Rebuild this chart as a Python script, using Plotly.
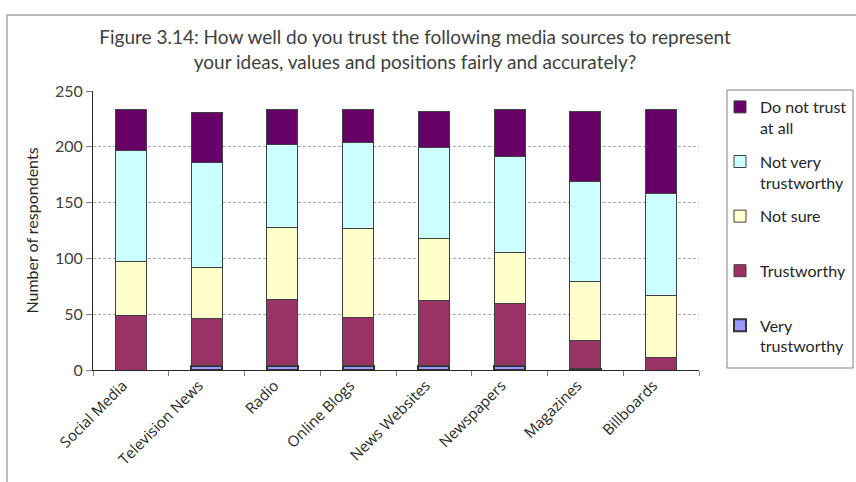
import plotly.graph_objects as go

# Survey responses per media source (number of respondents)
categories = ["Social Media", "Television News", "Radio", "Online Blogs",
              "News Websites", "Newspapers", "Magazines", "Billboards"]
very_trustworthy = [0, 4, 4, 4, 4, 4, 1, 0]
trustworthy = [49, 42, 59, 43, 58, 56, 25, 11]
not_sure = [48, 46, 65, 80, 56, 45, 53, 56]
not_very_trustworthy = [100, 94, 74, 77, 81, 86, 90, 91]
do_not_trust = [36, 45, 31, 29, 33, 42, 63, 75]

y_ticks = [0, 50, 100, 150, 200, 250]

NB = "\u00a0"
# stacked bottom to top; legend lists them top to bottom
series = [
    ("Very<br>trustworthy", very_trustworthy, "#9999FF", "#333333", 2),
    ("Trustworthy<br>" + NB, trustworthy, "#993366", "#404040", 1),
    ("Not sure<br>" + NB, not_sure, "#FFFFCC", "#404040", 1),
    ("Not very<br>trustworthy", not_very_trustworthy, "#CCFFFF", "#404040", 1),
    ("Do not trust<br>at all", do_not_trust, "#660066", "#404040", 1),
]

fig = go.Figure()
for i, (name, vals, fill, edge, lw) in enumerate(series):
    fig.add_trace(go.Bar(
        name=name, x=categories, y=vals,
        marker=dict(color=fill, line=dict(color=edge, width=lw)),
        legendgroup=f"g{i}",
        legendrank=len(series) - i,
        width=0.41,
    ))

L, R, T, B = 93, 157, 91, 112
W, H = 856, 482
pw = W - L - R
ph = H - T - B

fig.update_layout(
    width=W, height=H,
    barmode="stack",
    plot_bgcolor="white", paper_bgcolor="white",
    margin=dict(l=L, r=R, t=T, b=B, autoexpand=False),
    font=dict(family="Open Sans", color="#404040"),
    title=dict(
        text="Figure 3.14: How well do you trust the following media sources to represent<br>"
             "your ideas, values and positions fairly and accurately?",
        x=415 / W, xref="container", xanchor="center",
        y=1 - 44 / H, yref="container", yanchor="top",
        font=dict(family="Lato", size=19, color="#404040"),
    ),
    showlegend=True,
    legend=dict(
        x=720 / W, xref="container", xanchor="left",
        y=1 - 90 / H, yref="container", yanchor="top",
        traceorder="grouped", tracegroupgap=10,
        valign="top", maxheight=330,
        font=dict(family="Lato", size=16, color="#262626"),
        bgcolor="rgba(0,0,0,0)", borderwidth=0,
    ),
    shapes=[
        # outer chart frame
        dict(type="rect", xref="paper", yref="paper",
             x0=(7 - L) / pw, x1=(W + 5 - L) / pw,
             y0=-(B + 5) / ph, y1=1 + (T - 15) / ph,
             line=dict(color="#A6A6A6", width=1.5), layer="below"),
        # legend frame
        dict(type="rect", xref="paper", yref="paper",
             x0=(727 - L) / pw, x1=(853 - L) / pw,
             y0=1 - (368 - T) / ph, y1=1 - (90 - T) / ph,
             line=dict(color="#808080", width=1)),
    ],
)

fig.update_yaxes(
    range=[0, 250], tickvals=y_ticks,
    showgrid=True, gridcolor="#A6A6A6", griddash="3px,2px", gridwidth=1,
    showline=True, linecolor="#262626", linewidth=1,
    ticks="outside", ticklen=6, tickcolor="#808080",
    tickfont=dict(family="Lato", size=16, color="#404040"),
    title=dict(text="Number of respondents", standoff=12,
               font=dict(family="Lato", size=16, color="#262626")),
    zeroline=False,
)
fig.update_xaxes(
    tickangle=-45, tickson="boundaries",
    showline=True, linecolor="#262626", linewidth=1,
    ticks="outside", ticklen=5, tickcolor="#808080",
    ticklabelshift=-8,
    tickfont=dict(family="Open Sans", size=15, color="#262626"),
)

fig.write_html("out.html")
